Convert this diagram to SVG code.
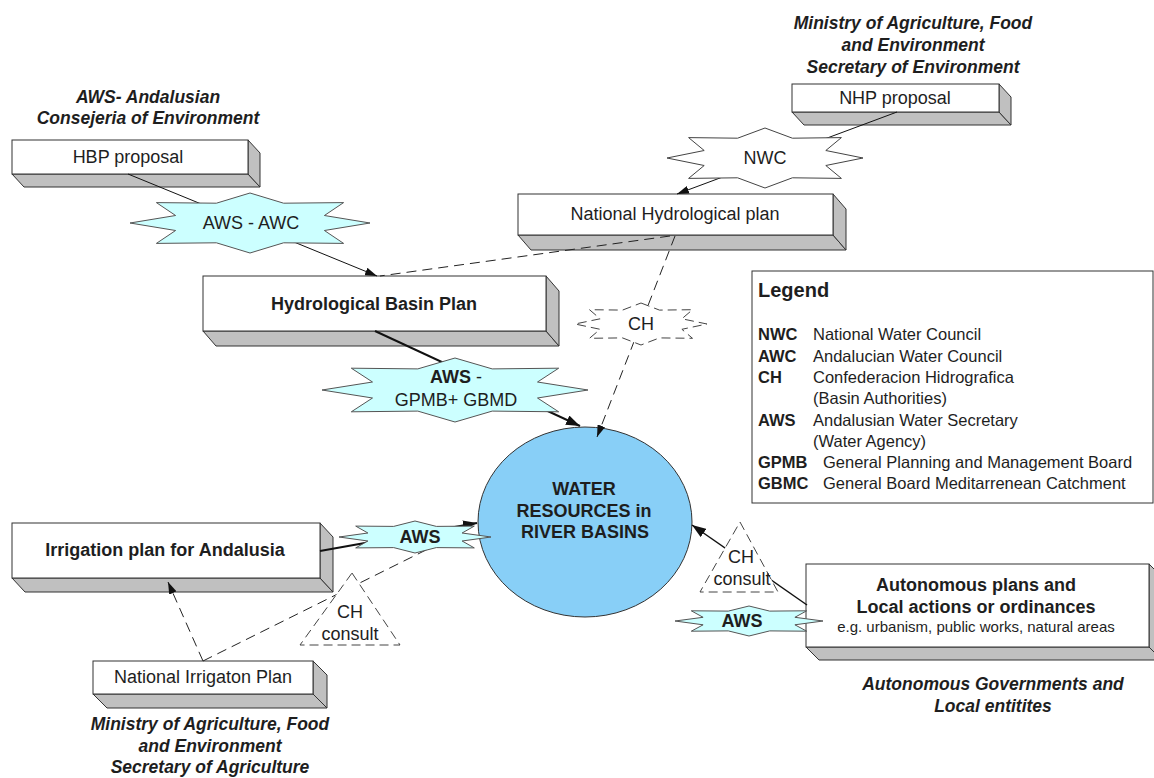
<svg xmlns="http://www.w3.org/2000/svg" width="1154" height="778" viewBox="0 0 1154 778">
<defs>
<style>
text{font-family:"Liberation Sans",Arial,Helvetica,sans-serif;fill:#1e1e1e}
.t{font-size:18px;text-anchor:middle}
.b{font-weight:bold}
.ttl{font-size:17.5px;font-weight:bold;font-style:italic;text-anchor:middle}
.front{fill:#fff;stroke:#333;stroke-width:1}
.side{fill:#c0c0c0;stroke:#333;stroke-width:1}
.star{fill:#ccffff;stroke:#555;stroke-width:1}
.wstar{fill:#fff;stroke:#444;stroke-width:1}
.dstar{fill:#fff;stroke:#444;stroke-width:1;stroke-dasharray:9,5}
.ln{fill:none;stroke:#111;stroke-width:1}
.thick{fill:none;stroke:#111;stroke-width:2}
.dash{fill:none;stroke:#222;stroke-width:1;stroke-dasharray:10,6}
.lg{font-size:16.5px}
</style>
<marker id="arr" viewBox="0 0 12 8" markerWidth="12" markerHeight="8" refX="12" refY="4" orient="auto" markerUnits="userSpaceOnUse"><path d="M0,0 L12,4 L0,8 z" fill="#111"/></marker>
<marker id="arrB" viewBox="0 0 14 10" markerWidth="14" markerHeight="10" refX="14" refY="5" orient="auto" markerUnits="userSpaceOnUse"><path d="M0,0 L14,5 L0,10 z" fill="#111"/></marker>
</defs>
<rect width="1154" height="778" fill="#fff"/>

<!-- titles -->
<g id="title-aws">
<text class="ttl" x="148" y="103">AWS- Andalusian</text>
<text class="ttl" x="148" y="124">Consejeria of Environment</text>
</g>
<g id="title-ministry-env">
<text class="ttl" x="913" y="29">Ministry of Agriculture, Food</text>
<text class="ttl" x="913" y="51">and Environment</text>
<text class="ttl" x="913" y="73">Secretary of Environment</text>
</g>
<g id="title-ministry-agr">
<text class="ttl" x="210" y="730">Ministry of Agriculture, Food</text>
<text class="ttl" x="210" y="752">and Environment</text>
<text class="ttl" x="210" y="773">Secretary of Agriculture</text>
</g>
<g id="title-autonomous">
<text class="ttl" x="993" y="690">Autonomous Governments and</text>
<text class="ttl" x="993" y="712">Local entitites</text>
</g>

<!-- boxes -->
<g id="hbp-proposal">
<polygon class="side" points="12,174 248,174 260,187 24,187"/>
<polygon class="side" points="248,140 260,153 260,187 248,174"/>
<rect class="front" x="12" y="140" width="236" height="34"/>
<text class="t" x="128" y="163">HBP proposal</text>
</g>
<g id="nhp-proposal">
<polygon class="side" points="792,112 999,112 1011,125 804,125"/>
<polygon class="side" points="999,84 1011,97 1011,125 999,112"/>
<rect class="front" x="792" y="84" width="207" height="28"/>
<text class="t" x="895" y="104">NHP proposal</text>
</g>
<g id="national-hydrological-plan">
<polygon class="side" points="518,235 833,235 846,250 531,250"/>
<polygon class="side" points="833,194 846,209 846,250 833,235"/>
<rect class="front" x="518" y="194" width="315" height="41"/>
<text class="t" x="675" y="220">National Hydrological plan</text>
</g>
<g id="hydrological-basin-plan">
<polygon class="side" points="203,331 546,331 559,346 216,346"/>
<polygon class="side" points="546,276 559,291 559,346 546,331"/>
<rect class="front" x="203" y="276" width="343" height="55"/>
<text class="t b" x="374" y="310">Hydrological Basin Plan</text>
</g>
<g id="irrigation-plan">
<polygon class="side" points="12,578 320,578 333,592 25,592"/>
<polygon class="side" points="320,523 333,537 333,592 320,578"/>
<rect class="front" x="12" y="523" width="308" height="55"/>
<text class="t b" x="165" y="556">Irrigation plan for Andalusia</text>
</g>
<g id="national-irrigation-plan">
<polygon class="side" points="93,694 313,694 327,708 107,708"/>
<polygon class="side" points="313,661 327,675 327,708 313,694"/>
<rect class="front" x="93" y="661" width="220" height="33"/>
<text class="t" x="203" y="683">National Irrigaton Plan</text>
</g>
<g id="autonomous-plans">
<polygon class="side" points="806,647 1149,647 1162,660 819,660"/>
<polygon class="side" points="1149,564 1162,577 1162,660 1149,647"/>
<rect class="front" x="806" y="564" width="343" height="83"/>
<text class="t b" x="976" y="591">Autonomous plans and</text>
<text class="t b" x="976" y="613">Local actions or ordinances</text>
<text x="976" y="632" style="font-size:15px;text-anchor:middle">e.g. urbanism, public works, natural areas</text>
</g>

<!-- legend -->
<g id="legend">
<rect x="752" y="271" width="401" height="232" fill="#fff" stroke="#333" stroke-width="1"/>
<text x="758" y="297" style="font-size:20px;font-weight:bold">Legend</text>
<text class="lg b" x="758" y="340">NWC</text><text class="lg" x="813" y="340">National Water Council</text>
<text class="lg b" x="758" y="361.5">AWC</text><text class="lg" x="813" y="361.5">Andalucian Water Council</text>
<text class="lg b" x="758" y="383">CH</text><text class="lg" x="813" y="383">Confederacion Hidrografica</text>
<text class="lg" x="813" y="404">(Basin Authorities)</text>
<text class="lg b" x="758" y="425.5">AWS</text><text class="lg" x="813" y="425.5">Andalusian Water Secretary</text>
<text class="lg" x="813" y="447">(Water Agency)</text>
<text class="lg b" x="758" y="468">GPMB</text><text class="lg" x="823" y="468">General Planning and Management Board</text>
<text class="lg b" x="758" y="489">GBMC</text><text class="lg" x="823" y="489">General Board Meditarrenean Catchment</text>
</g>

<!-- central node -->
<g id="water-resources">
<ellipse cx="585" cy="522" rx="107" ry="95" fill="#88cff7" stroke="#333" stroke-width="1"/>
<text class="t b" x="584" y="495">WATER</text>
<text class="t b" x="584" y="517">RESOURCES in</text>
<text class="t b" x="585" y="538">RIVER BASINS</text>
</g>

<!-- connectors -->
<g id="connectors">
<path class="ln" d="M128,174 L377,276" marker-end="url(#arr)"/>
<path class="ln" d="M897,112 L677,194" marker-end="url(#arr)"/>
<path class="dash" d="M670,236 L380,276"/>
<path class="dash" d="M675,236 L597,437" marker-end="url(#arr)"/>
<path class="thick" d="M375,331 L580,426" marker-end="url(#arrB)"/>
<path class="thick" d="M320,551 L477,523" marker-end="url(#arrB)"/>
<path class="dash" d="M203,661 L168,582" marker-end="url(#arr)"/>
<path class="dash" d="M203,661 L430,548"/>
<path class="ln" style="stroke-width:1.5" d="M807,605 L692,525" marker-end="url(#arrB)"/>
</g>

<!-- star labels -->
<g id="star-aws-awc">
<polygon class="star" points="250,193 283.6,203.2 343.6,202.6 324.4,215.5 370,223 324.4,230.5 343.6,243.4 283.6,242.8 250,253 216.4,242.8 156.4,243.4 175.6,230.5 130,223 175.6,215.5 156.4,202.6 216.4,203.2"/>
<text class="t" x="251" y="229">AWS - AWC</text>
</g>
<g id="star-nwc">
<polygon class="wstar" points="765,128 792.4,138.2 841.4,137.6 825.8,150.5 863,158 825.8,165.5 841.4,178.4 792.4,177.8 765,188 737.6,177.8 688.6,178.4 704.2,165.5 667,158 704.2,150.5 688.6,137.6 737.6,138.2"/>
<text class="t" x="765" y="164">NWC</text>
</g>
<g id="star-ch">
<polygon class="dstar" points="641,303 659.5,310.1 692.5,309.7 681.9,318.8 707,324 681.9,329.3 692.5,338.3 659.5,337.9 641,345 622.5,337.9 589.5,338.3 600.1,329.3 575,324 600.1,318.8 589.5,309.7 622.5,310.1"/>
<text class="t" x="641" y="330">CH</text>
</g>
<g id="star-aws-gpmb">
<polygon class="star" points="455,358 492.2,368.9 558.7,368.2 537.5,382 588,390 537.5,398 558.7,411.8 492.2,411.1 455,422 417.8,411.1 351.3,411.8 372.5,398 322,390 372.5,382 351.3,368.2 417.8,368.9"/>
<text class="t" x="456" y="383"><tspan class="b">AWS</tspan> -</text>
<text class="t" x="456" y="406">GPMB+ GBMD</text>
</g>
<g id="star-aws-irrigation">
<polygon class="star" points="415,521 436.3,526.4 474.3,526.1 462.1,533 491,537 462.1,541 474.3,547.9 436.3,547.6 415,553 393.7,547.6 355.7,547.9 367.9,541 339,537 367.9,533 355.7,526.1 393.7,526.4"/>
<text class="t b" x="420" y="543">AWS</text>
</g>
<g id="star-aws-autonomous">
<polygon class="star" points="749,606 769.7,611.1 806.7,610.8 794.9,617.3 823,621 794.9,624.8 806.7,631.2 769.7,630.9 749,636 728.3,630.9 691.3,631.2 703.1,624.8 675,621 703.1,617.3 691.3,610.8 728.3,611.1"/>
<text class="t b" x="742" y="627">AWS</text>
</g>
<g id="tri-ch-consult-left">
<polygon class="dstar" points="352,573 400,645 300,645"/>
<text class="t" x="350" y="618">CH</text>
<text class="t" x="350" y="640">consult</text>
</g>
<g id="tri-ch-consult-right">
<polygon class="dstar" points="740,522 778,592 700,592"/>
<text class="t" x="741" y="563">CH</text>
<text class="t" x="742" y="585">consult</text>
</g>
</svg>
